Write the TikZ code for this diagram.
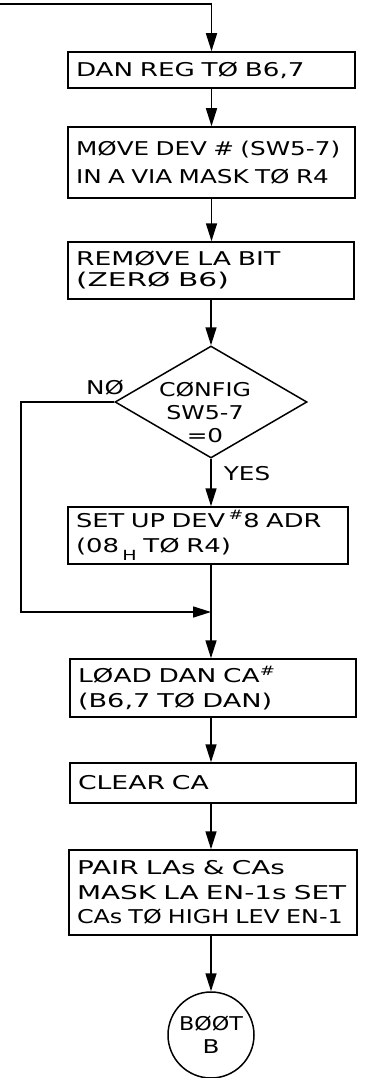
\documentclass[tikz,border=0pt]{standalone}
\usepackage{fontspec}
\usepackage{graphicx}
\newfontfamily\lett[FakeStretch=1.3]{DejaVu Sans}
\usetikzlibrary{arrows.meta,shapes.geometric}
\newcommand{\supsh}{\raisebox{0.38em}{\fontsize{13}{13}\selectfont\#}}
\newcommand{\subh}[1]{\,\raisebox{-0.45em}{\fontsize{14}{14}\selectfont #1}}
\newcommand{\sx}[2]{\scalebox{#1}[1]{#2}}
\begin{document}
\begin{tikzpicture}[x=1pt,y=-1pt,
  line/.style={line width=1.6pt, draw=black},
  arr/.style={line width=1.6pt, draw=black, -{Triangle[length=18pt,width=11pt]}},
  box/.style={draw, line width=1.5pt, rectangle, inner xsep=8pt, inner ysep=0pt,
    align=left, font=\lett\fontsize{19}{24}\selectfont, anchor=center},
  dia/.style={draw, line width=1.5pt, diamond, inner sep=0pt, minimum width=192pt, minimum height=112pt},
  dtext/.style={align=center, font=\lett\fontsize{19}{23}\selectfont, inner sep=0pt},
  lab/.style={font=\lett\fontsize{19}{23}\selectfont, inner sep=0pt},
  term/.style={draw, line width=1.5pt, circle, minimum size=86pt, inner sep=0pt, align=center,
    font=\lett\fontsize{19}{23}\selectfont}
]
\useasboundingbox (0,0) rectangle (376,1078);

\coordinate (start) at (0,4);
\node[box, minimum width=287pt, text width=271pt, minimum height=36pt] (b1) at (211.5,70)
  {\sx{1.06}{DAN REG TØ B6,7}};
\node[box, minimum width=287pt, text width=271pt, minimum height=71pt] (b2) at (211.5,162.5)
  {MØVE DEV \# (SW5-7)\\[4pt]IN A VIA MASK TØ R4};
\node[box, minimum width=286pt, text width=270pt, minimum height=57pt] (b3) at (211,270.5)
  {\sx{1.08}{REMØVE LA BIT}\\[-3pt]\sx{1.2}{(ZERØ B6)}};
\node[dia] (d) at (211,402) {};
\node[dtext] (dt) at (205,412) {\sx{0.96}{CØNFIG}\\\sx{0.96}{SW5-7}\\=0};
\node[lab] (no) at (105,388) {NØ};
\node[lab] (yes) at (247,474) {YES};
\node[box, minimum width=280pt, text width=264pt, minimum height=57pt] (b4) at (208,535.5)
  {\sx{1.04}{SET UP DEV\,\supsh8 ADR}\\[1pt]\sx{1.05}{(08\subh{H} TØ R4)}};
\coordinate (j) at (211,612);
\coordinate (nl) at (21,612);
\node[box, minimum width=286pt, text width=270pt, minimum height=58pt] (b5) at (213,688)
  {\sx{1.07}{LØAD DAN CA\supsh}\\[1pt]\sx{1.1}{(B6,7 TØ DAN)}};
\node[box, minimum width=286pt, text width=270pt, minimum height=40pt] (b6) at (213,783)
  {\sx{1.08}{CLEAR CA}};
\node[box, minimum width=288pt, text width=272pt, minimum height=85pt] (b7) at (213,892.5)
  {\sx{1.13}{PAIR LAs \& CAs}\\[0.5pt]\sx{1.13}{MASK LA EN-1s SET}\\[0.5pt]\sx{0.965}{CAs TØ HIGH LEV EN-1}};
\node[term] (bt) at (211,1035) {\sx{0.9}{BØØT}\\B};

\draw[arr] (start) -| (b1.north);
\draw[arr] (b1.south) -- (b1.south |- b2.north);
\draw[arr] (b2.south) -- (b2.south |- b3.north);
\draw[arr] (b3.south) -- (d.north);
\draw[arr] (d.south) -- (d.south |- b4.north);
\draw[line] (b4.south -| j) -- (j);
\draw[arr] (d.west) -| (nl) -- (j);
\draw[arr] (j) -- (j |- b5.north);
\draw[arr] (b5.south -| j) -- (j |- b6.north);
\draw[arr] (b6.south -| j) -- (j |- b7.north);
\draw[arr] (b7.south -| j) -- (bt.north);
\end{tikzpicture}
\end{document}
